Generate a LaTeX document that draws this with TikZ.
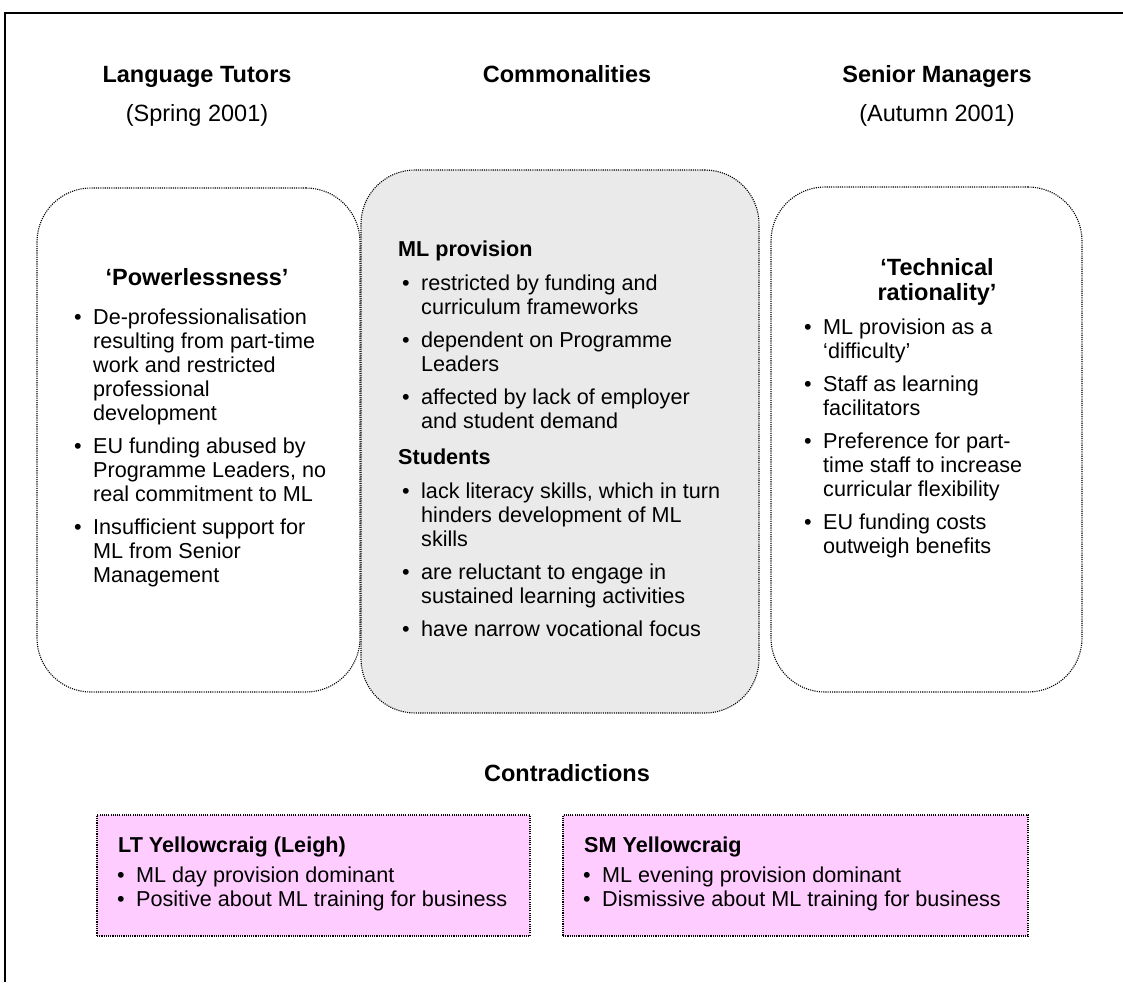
\documentclass[tikz,border=0pt]{standalone}
\usepackage{fontspec}
\setmainfont{Liberation Sans}
\definecolor{pinkfill}{HTML}{FFCCFF}
\definecolor{grayfill}{HTML}{EAEAEA}
\newcommand\bul{\rule{0pt}{16.8pt}\llap{\textbullet\hspace{11.5pt}}}
\begin{document}
\begin{tikzpicture}[x=1pt,y=-1pt,
  body/.style={font=\fontsize{21.6}{24}\selectfont, inner sep=0pt, align=left, anchor=north west, yshift=10pt},
  head/.style={font=\fontsize{23.5}{25}\selectfont\bfseries, inner sep=0pt, anchor=base},
  subhead/.style={font=\fontsize{23.5}{25}\selectfont, inner sep=0pt, anchor=base},
  bhead/.style={font=\fontsize{21.6}{24}\selectfont\bfseries, inner sep=0pt, anchor=base west},
  dotline/.style={draw=black, line width=1.1pt, dash pattern=on 1.1pt off 1.1pt},
  rbox/.style={dotline, rounded corners=54pt, inner sep=0pt},
  pbox/.style={dotline, fill=pinkfill, inner sep=0pt},
]
\useasboundingbox (0,0) rectangle (1123,982);
% outer frame
\coordinate (fb) at (5,982);
\coordinate (ftl) at (5,13);
\coordinate (ftr) at (1123,13);
\draw[line width=2.2pt] (fb) -- (ftl) -- (ftr);

% column headings
\node[head] (hlt) at (197,82) {Language Tutors};
\node[subhead] (slt) at (197,121) {(Spring 2001)};
\node[head] (hcm) at (567,82) {Commonalities};
\node[head] (hsm) at (937,82) {Senior Managers};
\node[subhead] (ssm) at (937,121) {(Autumn 2001)};

% boxes
\node[rbox, minimum width=323pt, minimum height=504pt] (ltbox) at (198.5,440) {};
\node[rbox, minimum width=311pt, minimum height=505pt] (smbox) at (926.5,439.5) {};
\node[rbox, fill=grayfill, minimum width=398pt, minimum height=543pt] (cmbox) at (560,441.5) {};

% left box content
\node[head] (pw) at (197,285) {‘Powerlessness’};
\node[body] (l1) at (93,317) {\bul De-professionalisation\\resulting from part-time\\work and restricted\\professional\\development};
\node[body] (l2) at (93,446) {\bul EU funding abused by\\Programme Leaders, no\\real commitment to ML};
\node[body] (l3) at (93,527) {\bul Insufficient support for\\ML from Senior\\Management};

% middle box content
\node[bhead] (mlp) at (398,256) {ML provision};
\node[body] (m1) at (421,283) {\bul restricted by funding and\\curriculum frameworks};
\node[body] (m2) at (421,340) {\bul dependent on Programme\\Leaders};
\node[body] (m3) at (421,397) {\bul affected by lack of employer\\and student demand};
\node[bhead] (stu) at (398,464) {Students};
\node[body] (m4) at (421,491) {\bul lack literacy skills, which in turn\\hinders development of ML\\skills};
\node[body] (m5) at (421,572) {\bul are reluctant to engage in\\sustained learning activities};
\node[body] (m6) at (421,629) {\bul have narrow vocational focus};

% right box content
\node[head, align=center, anchor=north, yshift=10pt] (tr) at (937,268) {\rule{0pt}{17pt}‘Technical\\rationality’};
\node[body] (r1) at (823,327) {\bul ML provision as a\\‘difficulty’};
\node[body] (r2) at (823,384) {\bul Staff as learning\\facilitators};
\node[body] (r3) at (823,441) {\bul Preference for part-\\time staff to increase\\curricular flexibility};
\node[body] (r4) at (823,522) {\bul EU funding costs\\outweigh benefits};

% contradictions
\node[head] (ctr) at (567,781) {Contradictions};
\node[pbox, minimum width=433pt, minimum height=121pt] (pl) at (313.5,875.5) {};
\node[pbox, minimum width=465pt, minimum height=121pt] (pr) at (795.5,875.5) {};
\node[bhead] (plh) at (118,852) {LT Yellowcraig (Leigh)};
\node[body] (pl1) at (136,875) {\bul ML day provision dominant};
\node[body] (pl2) at (136,899) {\bul Positive about ML training for business};
\node[bhead] (prh) at (584,852) {SM Yellowcraig};
\node[body] (pr1) at (602,875) {\bul ML evening provision dominant};
\node[body] (pr2) at (602,899) {\bul Dismissive about ML training for business};
\end{tikzpicture}
\end{document}
